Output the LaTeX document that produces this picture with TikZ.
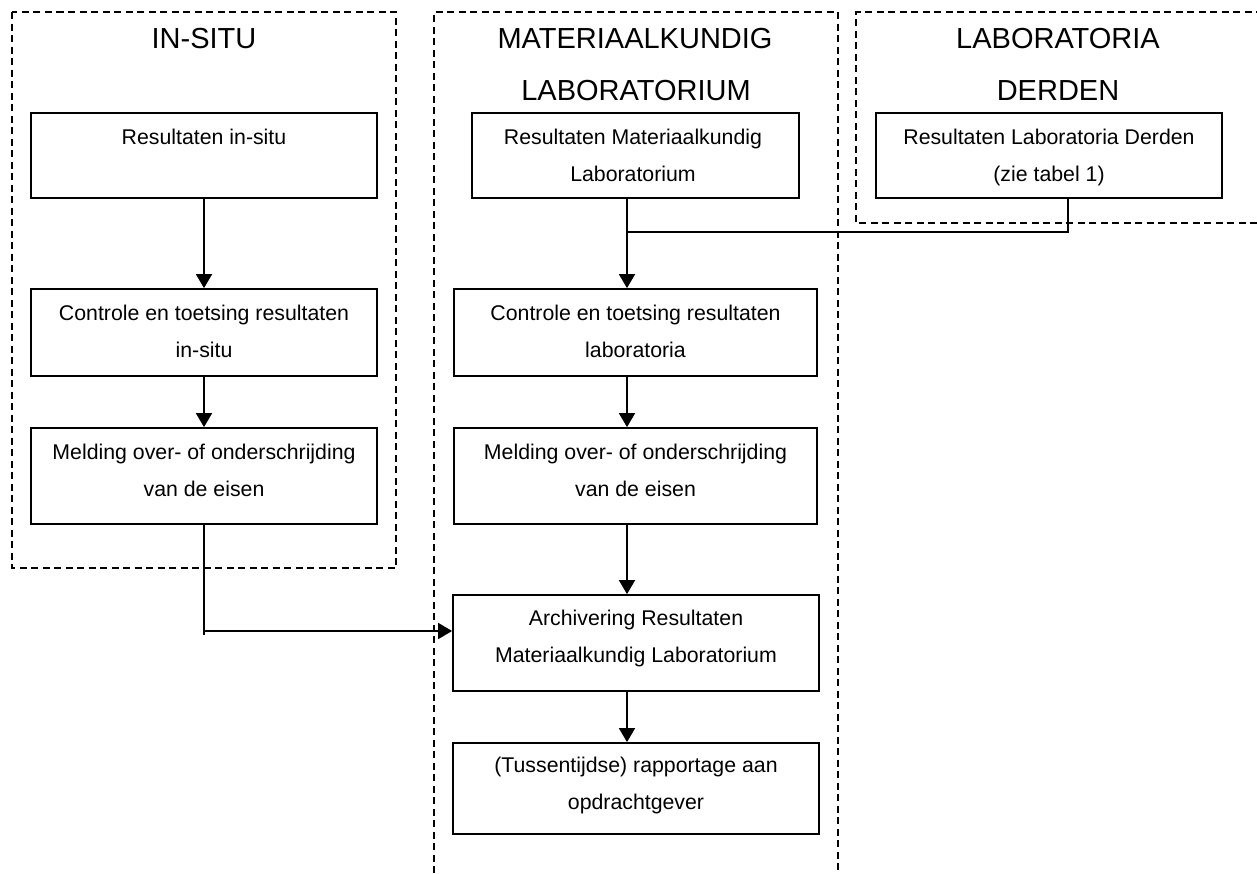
\documentclass[tikz,border=0pt]{standalone}
\usepackage{fontspec}
\setmainfont{Liberation Sans}
\usetikzlibrary{arrows.meta}
\begin{document}
\begin{tikzpicture}[x=1pt,y=-1pt,
  lane/.style={draw=black, line width=1.6pt, dash pattern=on 7pt off 4.5pt},
  box/.style={draw=black, line width=1.8pt, rectangle, inner sep=0pt},
  txt/.style={anchor=base, inner sep=0pt, font=\fontsize{21.3}{25}\selectfont},
  ttl/.style={anchor=base, inner sep=0pt, font=\fontsize{29}{34}\selectfont},
  arr/.style={line width=1.8pt, -{Triangle[length=14pt,width=16pt]}},
  conn/.style={line width=1.8pt}]
\useasboundingbox (0,0) rectangle (1257,873);
% lanes
\draw[lane] (12,12) rectangle (396,568);
\draw[lane] (434,873) -- (434,12) -- (838,12) -- (838,873);
\draw[lane] (1257,223) -- (856,223) -- (856,12) -- (1257,12);
% titles
\node[ttl] (t1) at (204,48) {IN-SITU};
\node[ttl] (t2a) at (635,48) {MATERIAALKUNDIG};
\node[ttl] (t2b) at (636,100) {LABORATORIUM};
\node[ttl] (t3a) at (1058,48) {LABORATORIA};
\node[ttl] (t3b) at (1058,100) {DERDEN};
% boxes
\node[box, minimum width=346pt, minimum height=85pt] (l1) at (204,155.5) {};
\node[box, minimum width=346pt, minimum height=87pt] (l2) at (204,332.5) {};
\node[box, minimum width=346pt, minimum height=96pt] (l3) at (204,476) {};
\node[box, minimum width=327pt, minimum height=85pt] (m1) at (635.5,155.5) {};
\node[box, minimum width=363pt, minimum height=87pt] (m2) at (635.5,332.5) {};
\node[box, minimum width=363pt, minimum height=96pt] (m3) at (635.5,476) {};
\node[box, minimum width=366pt, minimum height=96pt] (m4) at (636,643) {};
\node[box, minimum width=366pt, minimum height=91pt] (m5) at (636,788.5) {};
\node[box, minimum width=346pt, minimum height=85pt] (r1) at (1049,155.5) {};
% texts
\node[txt] (l1a) at (204,144) {Resultaten in-situ};
\node[txt] (l2a) at (204,320) {Controle en toetsing resultaten};
\node[txt] (l2b) at (204,357) {in-situ};
\node[txt] (l3a) at (204,459) {Melding over- of onderschrijding};
\node[txt] (l3b) at (204,496) {van de eisen};
\node[txt] (m1a) at (633,144) {Resultaten Materiaalkundig};
\node[txt] (m1b) at (633,181) {Laboratorium};
\node[txt] (m2a) at (635.5,320) {Controle en toetsing resultaten};
\node[txt] (m2b) at (635.5,357) {laboratoria};
\node[txt] (m3a) at (635.5,459) {Melding over- of onderschrijding};
\node[txt] (m3b) at (635.5,496) {van de eisen};
\node[txt] (m4a) at (636,625) {Archivering Resultaten};
\node[txt] (m4b) at (636,662) {Materiaalkundig Laboratorium};
\node[txt] (m5a) at (636,772) {(Tussentijdse) rapportage aan};
\node[txt] (m5b) at (636,809) {opdrachtgever};
\node[txt] (r1a) at (1049,144) {Resultaten Laboratoria Derden};
\node[txt] (r1b) at (1049,181) {(zie tabel 1)};
% connectors
\coordinate (mx) at (627,0);
\coordinate (jn) at (627,232);
\coordinate (rx) at (1068,232);
\coordinate (lj) at (204,631);
\coordinate (lk) at (204,635);
\draw[arr] (l1) -- (l2);
\draw[arr] (l2) -- (l3);
\draw[conn] (l3.south) -- (lk);
\draw[arr] (lj) -- (lj -| m4.west);
\draw[arr] (m1.south -| mx) -- (m2.north -| mx);
\draw[conn] (r1.south -| rx) -- (rx) -- (jn);
\draw[arr] (m2.south -| mx) -- (m3.north -| mx);
\draw[arr] (m3.south -| mx) -- (m4.north -| mx);
\draw[arr] (m4.south -| mx) -- (m5.north -| mx);
\end{tikzpicture}
\end{document}
